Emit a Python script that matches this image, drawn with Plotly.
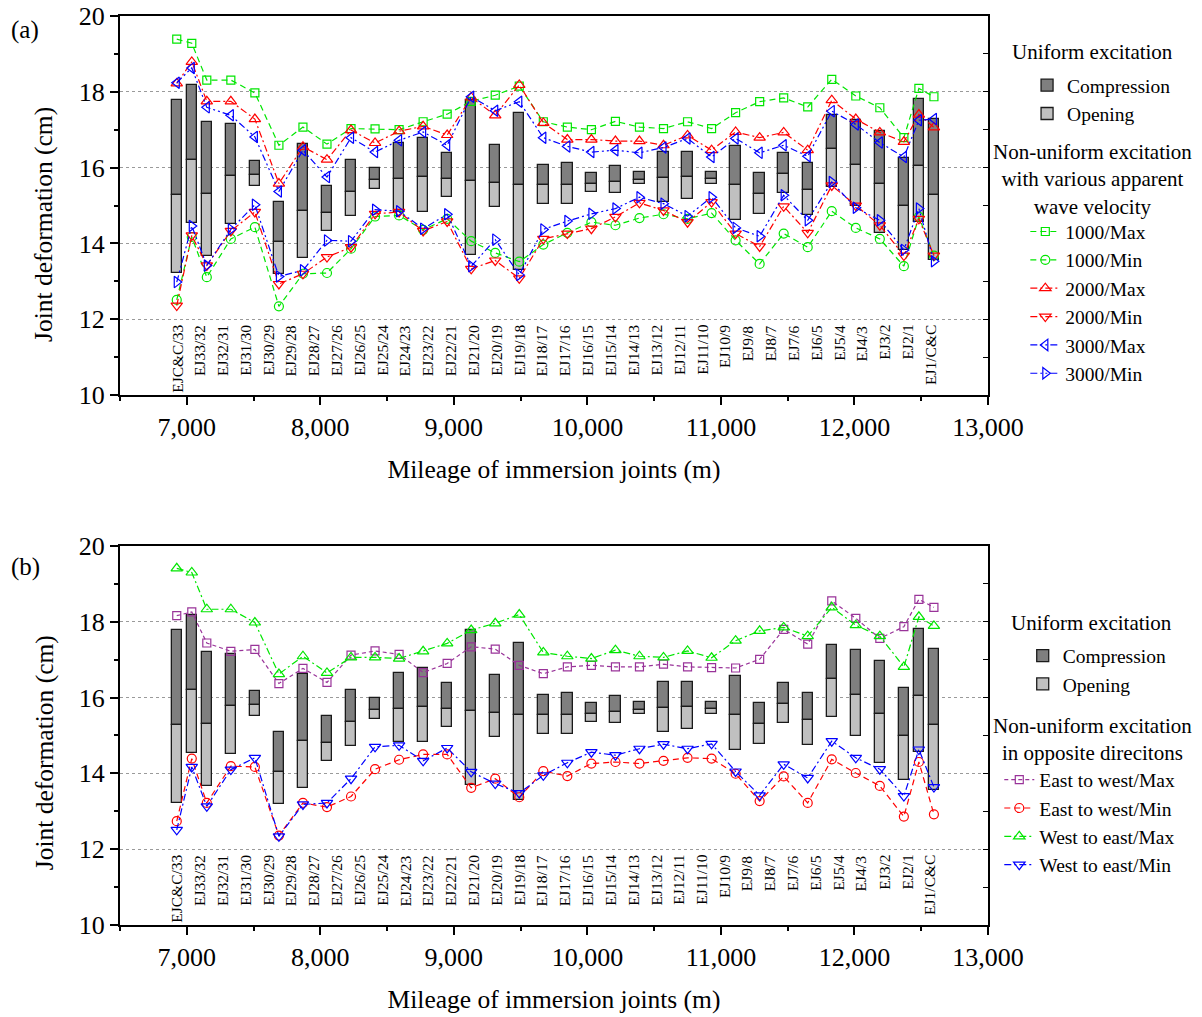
import numpy as np
import plotly.graph_objects as go

# ---------------- data ----------------
joints = ["EJC&C/33", "EJ33/32", "EJ32/31", "EJ31/30", "EJ30/29", "EJ29/28", "EJ28/27",
          "EJ27/26", "EJ26/25", "EJ25/24", "EJ24/23", "EJ23/22", "EJ22/21", "EJ21/20",
          "EJ20/19", "EJ19/18", "EJ18/17", "EJ17/16", "EJ16/15", "EJ15/14", "EJ14/13",
          "EJ13/12", "EJ12/11", "EJ11/10", "EJ10/9", "EJ9/8", "EJ8/7", "EJ7/6", "EJ6/5",
          "EJ5/4", "EJ4/3", "EJ3/2", "EJ2/1", "EJ1/C&C"]

mileage = [6925, 7037.5, 7150, 7330, 7510, 7690, 7870, 8050, 8230, 8410, 8590, 8770, 8950,
           9130, 9310, 9490, 9670, 9850, 10030, 10210, 10390, 10570, 10750, 10930, 11110,
           11290, 11470, 11650, 11830, 12010, 12190, 12370, 12482.5, 12595]

# uniform excitation: bar top (max), split value, bar bottom (min)
uni_top = [17.78, 18.18, 17.21, 17.15, 16.18, 15.09, 16.63, 15.51, 16.19, 15.99, 16.66, 16.79,
           16.39, 17.78, 16.59, 17.43, 16.06, 16.13, 15.87, 16.04, 15.89, 16.40, 16.40, 15.89,
           16.57, 15.86, 16.39, 16.13, 17.40, 17.25, 16.97, 16.26, 17.82, 17.27]
uni_mid = [15.27, 16.21, 15.30, 15.79, 15.80, 14.04, 14.85, 14.80, 15.37, 15.67, 15.71, 15.74,
           15.71, 15.65, 15.59, 15.55, 15.53, 15.53, 15.58, 15.62, 15.68, 15.73, 15.74, 15.69,
           15.55, 15.31, 15.84, 15.40, 16.50, 16.06, 15.56, 15.00, 16.04, 15.27]
uni_bot = [13.22, 14.55, 13.68, 14.50, 15.52, 13.20, 13.62, 14.32, 14.72, 15.44, 14.83, 14.83,
           15.22, 13.70, 14.96, 13.29, 15.03, 15.05, 15.37, 15.34, 15.58, 15.09, 15.18, 15.58,
           14.63, 14.78, 15.34, 14.76, 15.49, 14.98, 14.28, 13.82, 14.56, 13.57]

# (a) various apparent wave velocity
v1000_max = [19.39, 19.28, 18.31, 18.31, 17.97, 16.59, 17.07, 16.62, 17.03, 17.02, 17.00, 17.21,
             17.41, 17.75, 17.91, 18.15, 17.21, 17.07, 17.00, 17.22, 17.07, 17.03, 17.21, 17.03,
             17.45, 17.74, 17.84, 17.60, 18.33, 17.89, 17.58, 16.79, 18.09, 17.87]
v1000_min = [12.51, 14.17, 13.11, 14.12, 14.43, 12.34, 13.20, 13.22, 13.86, 14.71, 14.74, 14.36,
             14.65, 14.06, 13.75, 13.52, 13.97, 14.28, 14.56, 14.48, 14.67, 14.77, 14.65, 14.80,
             14.08, 13.46, 14.26, 13.90, 14.85, 14.41, 14.12, 13.40, 14.70, 13.68]
v2000_max = [18.22, 18.79, 17.75, 17.75, 17.28, 15.58, 16.55, 16.21, 16.99, 16.65, 16.96, 17.09,
             16.86, 17.85, 17.38, 18.18, 17.18, 16.74, 16.74, 16.70, 16.70, 16.59, 16.85, 16.46,
             16.94, 16.79, 16.93, 16.46, 17.78, 17.28, 16.93, 16.68, 17.40, 17.06]
v2000_min = [12.36, 14.21, 13.42, 14.33, 14.83, 12.93, 13.20, 13.64, 13.90, 14.78, 14.83, 14.33,
             14.58, 13.33, 13.55, 13.08, 14.12, 14.26, 14.39, 14.70, 15.07, 14.87, 14.56, 15.09,
             14.26, 13.92, 14.98, 14.28, 15.53, 15.00, 14.48, 13.68, 14.65, 13.68]
v3000_max = [18.24, 18.63, 17.59, 17.38, 16.81, 15.37, 16.46, 15.75, 16.79, 16.41, 16.72, 16.94,
             16.59, 17.87, 17.50, 17.74, 16.79, 16.56, 16.41, 16.46, 16.39, 16.53, 16.77, 16.28,
             16.77, 16.39, 16.59, 16.30, 17.49, 17.14, 16.66, 16.28, 17.25, 17.28]
v3000_min = [12.98, 14.46, 13.42, 14.37, 15.02, 13.13, 13.29, 14.08, 14.06, 14.89, 14.85, 14.39,
             14.77, 13.40, 14.10, 13.17, 14.37, 14.59, 14.78, 14.92, 15.22, 15.05, 14.72, 15.22,
             14.41, 14.19, 15.27, 14.61, 15.62, 14.94, 14.61, 13.83, 14.92, 13.53]

# (b) opposite directions
ew_max = [18.16, 18.26, 17.44, 17.22, 17.27, 16.37, 16.77, 16.40, 17.12, 17.23, 17.14, 16.66,
          16.90, 17.34, 17.28, 16.85, 16.63, 16.81, 16.85, 16.81, 16.81, 16.88, 16.81, 16.79,
          16.78, 17.01, 17.80, 17.41, 18.55, 18.09, 17.56, 17.87, 18.59, 18.38]
ew_min = [12.74, 14.39, 13.22, 14.19, 14.17, 12.36, 13.22, 13.11, 13.39, 14.11, 14.36, 14.50,
          14.50, 13.62, 13.86, 13.37, 14.06, 13.93, 14.26, 14.30, 14.26, 14.33, 14.41, 14.39,
          13.99, 13.27, 13.92, 13.22, 14.37, 14.01, 13.67, 12.86, 14.30, 12.92]
we_max = [19.41, 19.30, 18.33, 18.33, 17.98, 16.62, 17.09, 16.65, 17.06, 17.06, 17.03, 17.22,
          17.43, 17.78, 17.96, 18.19, 17.19, 17.09, 17.03, 17.25, 17.09, 17.06, 17.23, 17.05,
          17.50, 17.76, 17.85, 17.62, 18.38, 17.91, 17.62, 16.81, 18.13, 17.89]
we_min = [12.51, 14.17, 13.13, 14.10, 14.41, 12.34, 13.18, 13.22, 13.86, 14.70, 14.74, 14.33,
          14.67, 14.04, 13.73, 13.48, 13.95, 14.28, 14.56, 14.48, 14.65, 14.77, 14.65, 14.78,
          14.05, 13.42, 14.24, 13.88, 14.85, 14.41, 14.11, 13.40, 14.63, 13.64]

x_ticks = [7000, 8000, 9000, 10000, 11000, 12000, 13000]

# ---------------- styling ----------------
FONT = "Liberation Serif"
GREEN, RED, BLUE, PURPLE = "#00e600", "#ff0000", "#0000ff", "#993399"
DARK, LIGHT = "#7f7f7f", "#c0c0c0"
DASH = "6px,4px"
DASHDOT = "7px,3px,2px,3px"
DASHDOTDOT = "7px,3px,2px,3px,2px,3px"
FINE_DASH = "4px,3px"

fig = go.Figure()

mid = np.array(uni_mid)
comp_len = np.array(uni_top) - mid
open_len = mid - np.array(uni_bot)


def add_bars(xa, ya, legend):
    fig.add_trace(go.Bar(x=mileage, y=comp_len, base=uni_mid, width=78, name="Compression",
                         marker=dict(color=DARK, line=dict(color="#1a1a1a", width=1.3)),
                         xaxis=xa, yaxis=ya, legend=legend))
    fig.add_trace(go.Bar(x=mileage, y=open_len, base=uni_bot, width=78, name="Opening",
                         marker=dict(color=LIGHT, line=dict(color="#1a1a1a", width=1.3)),
                         xaxis=xa, yaxis=ya, legend=legend))


def add_line(y, name, color, dash, symbol, xa, ya, legend, size=9):
    fig.add_trace(go.Scatter(x=mileage, y=y, name=name, mode="lines+markers",
                             line=dict(color=color, width=1.2, dash=dash),
                             marker=dict(symbol=symbol, size=size, color=color,
                                         line=dict(color=color, width=1.2)),
                             xaxis=xa, yaxis=ya, legend=legend))


add_bars("x", "y", "legend")
add_line(v1000_max, "1000/Max", GREEN, DASH, "square-open", "x", "y", "legend2", 8)
add_line(v1000_min, "1000/Min", GREEN, DASH, "circle-open", "x", "y", "legend2")
add_line(v2000_max, "2000/Max", RED, DASHDOT, "triangle-up-open", "x", "y", "legend2", 10)
add_line(v2000_min, "2000/Min", RED, DASHDOT, "triangle-down-open", "x", "y", "legend2", 10)
add_line(v3000_max, "3000/Max", BLUE, DASHDOTDOT, "triangle-left-open", "x", "y", "legend2", 10)
add_line(v3000_min, "3000/Min", BLUE, DASHDOTDOT, "triangle-right-open", "x", "y", "legend2", 10)

add_bars("x2", "y2", "legend3")
add_line(ew_max, "East to west/Max", PURPLE, FINE_DASH, "square-open", "x2", "y2", "legend4", 8)
add_line(ew_min, "East to west/Min", RED, DASH, "circle-open", "x2", "y2", "legend4")
add_line(we_max, "West to east/Max", GREEN, DASHDOT, "triangle-up-open", "x2", "y2", "legend4", 10)
add_line(we_min, "West to east/Min", BLUE, DASHDOT, "triangle-down-open", "x2", "y2", "legend4", 10)

# dummy traces so the mirrored right-hand tick axes are drawn
fig.add_trace(go.Scatter(x=[None], y=[None], xaxis="x", yaxis="y3", showlegend=False))
fig.add_trace(go.Scatter(x=[None], y=[None], xaxis="x2", yaxis="y4", showlegend=False))

XR = [6500, 13000]
YR = [10, 20]
TOP_DOM = [0.583, 1.0]
BOT_DOM = [0.0, 0.417]
TICK_FONT = dict(family=FONT, size=26, color="black")
AX_TITLE_FONT = dict(family=FONT, size=25.5, color="black")


def xaxis_cfg(anchor):
    return dict(range=XR, anchor=anchor, tickmode="array", tickvals=x_ticks, tickformat=",d",
                ticks="outside", ticklen=8, tickwidth=1.5, tickcolor="black",
                minor=dict(dtick=500, tick0=6500, ticks="outside", ticklen=4, tickwidth=1.5,
                           tickcolor="black"),
                showline=True, linecolor="black", linewidth=2, mirror=True, showgrid=False,
                zeroline=False, automargin=False, tickfont=TICK_FONT,
                title=dict(text="Mileage of immersion joints (m)", standoff=19,
                           font=AX_TITLE_FONT))


def yaxis_cfg(anchor, dom):
    return dict(range=YR, domain=dom, anchor=anchor, dtick=2, tick0=10,
                ticks="outside", ticklen=8, tickwidth=1.5, tickcolor="black",
                minor=dict(dtick=1, ticks="outside", ticklen=4, tickwidth=1.5, tickcolor="black",
                           showgrid=False),
                showline=True, linecolor="black", linewidth=2, mirror=True,
                showgrid=True, gridcolor="#9a9a9a", griddash="dot", gridwidth=1,
                zeroline=False, automargin=False, tickfont=TICK_FONT)


def yright_cfg(overlay, anchor):
    return dict(range=YR, overlaying=overlay, anchor=anchor, side="right", dtick=1, tick0=10,
                ticks="inside", ticklen=5, tickwidth=1.2, tickcolor="black", automargin=False,
                showticklabels=False, showgrid=False, zeroline=False, showline=False)


LEG_FONT = dict(family=FONT, size=19.5, color="black")


def legend_cfg(x, y):
    return dict(x=x, y=y, xanchor="left", yanchor="top", xref="paper", yref="paper",
                font=LEG_FONT, bgcolor="rgba(0,0,0,0)", borderwidth=0,
                itemwidth=30, tracegroupgap=0, traceorder="normal")


fig.update_layout(
    width=1202, height=1017,
    margin=dict(l=120, r=214, t=16, b=92, autoexpand=False),
    paper_bgcolor="white", plot_bgcolor="white",
    barmode="overlay", bargap=0,
    font=dict(family=FONT, color="black"),
    xaxis=xaxis_cfg("y"),
    yaxis=yaxis_cfg("x", TOP_DOM),
    xaxis2=xaxis_cfg("y2"),
    yaxis2=yaxis_cfg("x2", BOT_DOM),
    yaxis3=yright_cfg("y", "x"),
    yaxis4=yright_cfg("y2", "x2"),
    legend=legend_cfg(1.045, 0.945),
    legend2=legend_cfg(1.043, 0.784),
    legend3=legend_cfg(1.040, 0.3175),
    legend4=legend_cfg(1.013, 0.181),
    showlegend=True,
)

annotations = []
label_x = np.linspace(6925, 12565, len(joints))
for xa, ya in (("x", "y"), ("x2", "y2")):
    for lx, name in zip(label_x, joints):
        annotations.append(dict(x=lx, y=11.9, xref=xa, yref=ya, text=name, showarrow=False,
                                textangle=-90, xanchor="center", yanchor="top",
                                font=dict(family=FONT, size=15.5, color="black")))

TITLE_FONT = dict(family=FONT, size=21, color="black")
annotations += [
    dict(x=1.12, y=0.9604, xref="paper", yref="paper", text="Uniform excitation",
         showarrow=False, xanchor="center", yanchor="middle", font=TITLE_FONT),
    dict(x=1.12, y=0.8196, xref="paper", yref="paper",
         text="Non-uniform excitation<br>with various apparent<br>wave velocity",
         showarrow=False, xanchor="center", yanchor="middle", align="center", font=TITLE_FONT),
    dict(x=1.119, y=0.3322, xref="paper", yref="paper", text="Uniform excitation",
         showarrow=False, xanchor="center", yanchor="middle", font=TITLE_FONT),
    dict(x=1.12, y=0.2041, xref="paper", yref="paper",
         text="Non-uniform excitation<br>in opposite direcitons",
         showarrow=False, xanchor="center", yanchor="middle", align="center", font=TITLE_FONT),
    dict(x=-0.0876, y=0.7712, xref="paper", yref="paper", text="Joint deformation (cm)",
         showarrow=False, textangle=-90, xanchor="center", yanchor="middle", font=AX_TITLE_FONT),
    dict(x=-0.0876, y=0.190, xref="paper", yref="paper", text="Joint deformation (cm)",
         showarrow=False, textangle=-90, xanchor="center", yanchor="middle", font=AX_TITLE_FONT),
    dict(x=-0.109, y=0.9846, xref="paper", yref="paper", text="(a)", showarrow=False,
         xanchor="center", yanchor="middle", font=dict(family=FONT, size=25, color="black")),
    dict(x=-0.109, y=0.3938, xref="paper", yref="paper", text="(b)", showarrow=False,
         xanchor="center", yanchor="middle", font=dict(family=FONT, size=25, color="black")),
]
fig.update_layout(annotations=annotations)

fig.write_html("out.html")
